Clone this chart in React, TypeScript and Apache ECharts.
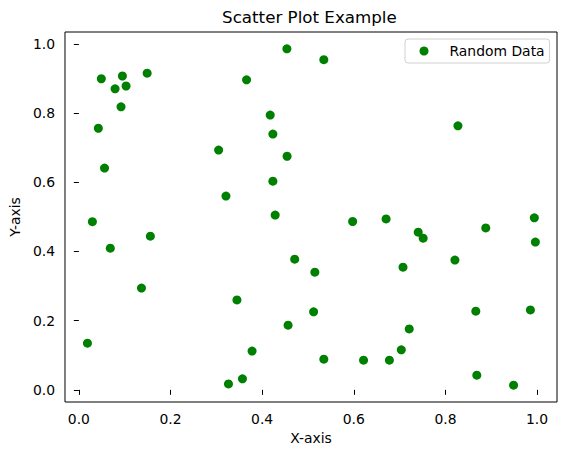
import React, { useEffect, useRef } from "react";
import * as echarts from "echarts";

const titleText = "Scatter Plot Example";
const xAxisLabel = "X-axis";
const yAxisLabel = "Y-axis";
const seriesName = "Random Data";
const tickValues = [0, 0.2, 0.4, 0.6, 0.8, 1.0];

const xValues = [
  0.049, 0.095, 0.079, 0.103, 0.092, 0.149, 0.366, 0.0425, 0.305, 0.056,
  0.321, 0.0295, 0.0686, 0.156, 0.1366, 0.345, 0.0187, 0.378, 0.357, 0.3265,
  0.454, 0.5346, 0.4176, 0.4234, 0.4544, 0.4234, 0.4284, 0.5975, 0.6705, 0.7406,
  0.7514, 0.471, 0.515, 0.7074, 0.5123, 0.4566, 0.721, 0.7037, 0.5346, 0.6213,
  0.6777, 0.8273, 0.994, 0.888, 0.9963, 0.8207, 0.8663, 0.9855, 0.8685, 0.9487,
];
const yValues = [
  0.899, 0.907, 0.87, 0.878, 0.818, 0.915, 0.896, 0.756, 0.693, 0.641,
  0.56, 0.486, 0.4095, 0.444, 0.294, 0.26, 0.135, 0.112, 0.032, 0.017,
  0.9855, 0.954, 0.794, 0.739, 0.675, 0.603, 0.505, 0.4865, 0.494, 0.4557,
  0.4383, 0.3777, 0.34, 0.3545, 0.2254, 0.187, 0.176, 0.1156, 0.0887, 0.0857,
  0.0857, 0.763, 0.497, 0.468, 0.427, 0.375, 0.2274, 0.231, 0.0424, 0.0135,
];

export default function App() {
  const ref = useRef<HTMLDivElement>(null);
  useEffect(() => {
    if (!ref.current) return;
    const chart = echarts.init(ref.current, null, { renderer: "svg" });
    const font = "DejaVu Sans";
    const data = xValues.map((x, i) => [x, yValues[i]]);
    chart.setOption({
      animation: false,
      backgroundColor: "#ffffff",
      grid: {
        left: 62,
        top: 32,
        width: 495,
        height: 370,
        show: true,
        borderColor: "#000000",
        borderWidth: 1,
        backgroundColor: "transparent",
      },
      xAxis: {
        type: "value",
        min: -0.0303,
        max: 1.0435,
        name: xAxisLabel,
        nameLocation: "middle",
        nameGap: 29,
        nameTextStyle: { fontFamily: font, fontSize: 13.9, color: "#000" },
        axisLine: { show: false },
        splitLine: { show: false },
        axisTick: {
          show: true,
          length: 5,
          customValues: tickValues,
          lineStyle: { color: "#000", width: 1 },
        },
        axisLabel: {
          customValues: tickValues,
          margin: 10,
          fontFamily: font,
          fontSize: 13.9,
          color: "#000",
          formatter: (v: number) => v.toFixed(1),
        },
      },
      yAxis: {
        type: "value",
        min: -0.0351,
        max: 1.0341,
        name: yAxisLabel,
        nameLocation: "middle",
        nameGap: 38,
        nameTextStyle: { fontFamily: font, fontSize: 13.9, color: "#000" },
        axisLine: { show: false },
        splitLine: { show: false },
        axisTick: {
          show: true,
          length: 5,
          customValues: tickValues,
          lineStyle: { color: "#000", width: 1 },
        },
        axisLabel: {
          customValues: tickValues,
          margin: 10,
          fontFamily: font,
          fontSize: 13.9,
          color: "#000",
          formatter: (v: number) => v.toFixed(1),
        },
      },
      legend: {
        show: true,
        left: 405,
        top: 39,
        orient: "horizontal",
        padding: [5, 5, 5, 14.5],
        itemWidth: 9,
        itemHeight: 9,
        itemGap: 0,
        borderColor: "#d0d0d0",
        borderWidth: 1,
        borderRadius: 3,
        backgroundColor: "rgba(255,255,255,0.8)",
        textStyle: { fontFamily: font, fontSize: 13.9, color: "#000", padding: [0, 0, 0, 16] },
        data: [{ name: seriesName, icon: "circle" }],
      },
      graphic: [
        {
          type: "text",
          x: 309.4,
          y: 16.5,
          style: {
            text: titleText,
            fontFamily: font,
            fontSize: 16.7,
            fill: "#000",
            align: "center",
            verticalAlign: "middle",
          },
        },
      ],
      series: [
        {
          name: seriesName,
          type: "scatter",
          symbol: "circle",
          symbolSize: 9,
          itemStyle: { color: "#008000", opacity: 1 },
          data,
        },
      ],
    });
    return () => chart.dispose();
  }, []);
  return (
    <div
      ref={ref}
      style={{ position: "fixed", left: 0, top: 0, width: 567, height: 455, background: "#fff" }}
    />
  );
}
